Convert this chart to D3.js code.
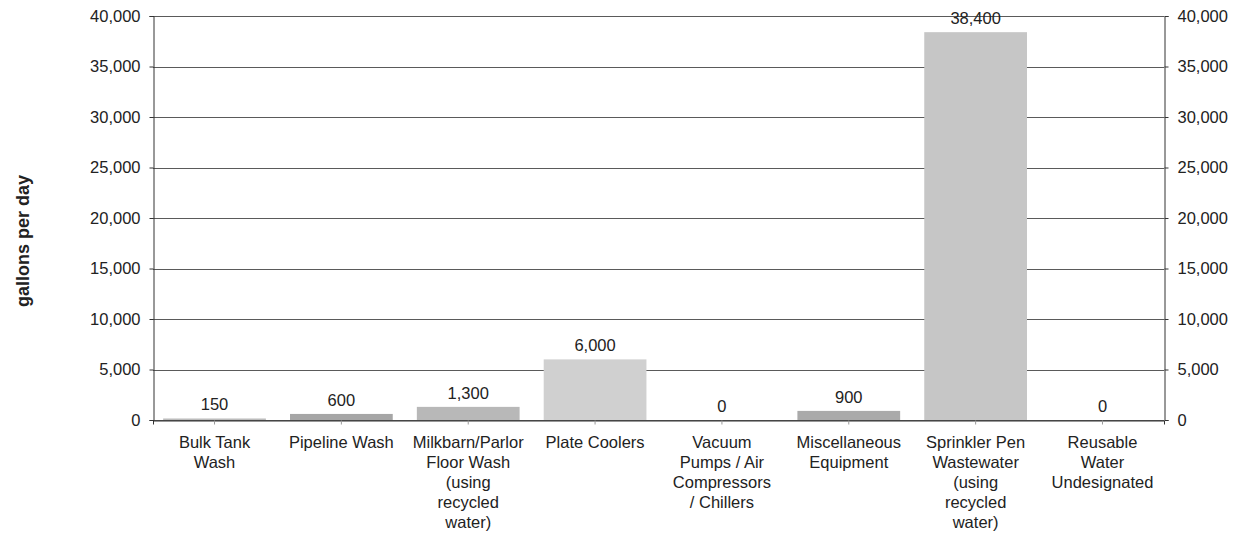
<!DOCTYPE html>
<html>
<head>
<meta charset="utf-8">
<script src="https://cdn.jsdelivr.net/npm/d3@7"></script>
<style>
  html, body { margin: 0; padding: 0; background: #fff; }
  svg { display: block; font-family: "Liberation Sans", Arial, sans-serif; }
</style>
</head>
<body>
<svg id="chart" width="1240" height="536"></svg>
<script>
// Daily water use by activity (gallons per day)
const categories = [
  ["Bulk Tank", "Wash"],
  ["Pipeline Wash"],
  ["Milkbarn/Parlor", "Floor Wash", "(using", "recycled", "water)"],
  ["Plate Coolers"],
  ["Vacuum", "Pumps / Air", "Compressors", "/ Chillers"],
  ["Miscellaneous", "Equipment"],
  ["Sprinkler Pen", "Wastewater", "(using", "recycled", "water)"],
  ["Reusable", "Water", "Undesignated"]
];
const values = [150, 600, 1300, 6000, 0, 900, 38400, 0];
const barColors = ["#bcbcbc", "#a6a6a6", "#b8b8b8", "#d0d0d0", "#c0c0c0", "#aaaaaa", "#c6c6c6", "#c0c0c0"];
const yTicks = [0, 5000, 10000, 15000, 20000, 25000, 30000, 35000, 40000];
const yTitle = "gallons per day";

const FONT = 16.5;
const svg = d3.select("#chart");
const plotL = 153, plotR = 1164, plotT = 16, plotB = 420;

const x = d3.scaleBand()
  .domain(d3.range(categories.length))
  .range([plotL, plotR])
  .paddingInner(0.19)
  .paddingOuter(0.08);

const y = d3.scaleLinear().domain([0, 40000]).range([plotB, plotT]);
const fmt = d3.format(",");

// horizontal gridlines
svg.append("g")
  .selectAll("line")
  .data(yTicks)
  .join("line")
  .attr("x1", plotL).attr("x2", plotR)
  .attr("y1", d => Math.round(y(d)) + 0.5).attr("y2", d => Math.round(y(d)) + 0.5)
  .attr("stroke", "#5a5a5a").attr("stroke-width", 1);

// bars
svg.append("g")
  .selectAll("rect")
  .data(values)
  .join("rect")
  .attr("x", (d, i) => x(i))
  .attr("width", x.bandwidth())
  .attr("y", d => y(d))
  .attr("height", d => y(0) - y(d))
  .attr("fill", (d, i) => barColors[i]);

// value labels
svg.append("g")
  .selectAll("text")
  .data(values)
  .join("text")
  .attr("x", (d, i) => x(i) + x.bandwidth() / 2)
  .attr("y", d => y(d) - 8)
  .attr("text-anchor", "middle")
  .attr("font-size", FONT)
  .attr("fill", "#222")
  .text(d => fmt(d));

// left axis
const yAxisL = d3.axisLeft(y).tickValues(yTicks).tickFormat(fmt).tickSize(4).tickPadding(9);
const gL = svg.append("g").attr("transform", `translate(${plotL + 0.5},0)`).call(yAxisL);
gL.select(".domain").attr("stroke", "#333");
gL.selectAll(".tick line").attr("stroke", "#333");
gL.selectAll("text").attr("font-size", FONT).attr("fill", "#222").attr("font-family", "Liberation Sans, Arial, sans-serif");

// right axis
const yAxisR = d3.axisRight(y).tickValues(yTicks).tickFormat(fmt).tickSize(4).tickPadding(9);
const gR = svg.append("g").attr("transform", `translate(${plotR + 0.5},0)`).call(yAxisR);
gR.select(".domain").attr("stroke", "#333");
gR.selectAll(".tick line").attr("stroke", "#333");
gR.selectAll("text").attr("font-size", FONT).attr("fill", "#222").attr("font-family", "Liberation Sans, Arial, sans-serif");

// bottom axis with wrapped category labels
const xAxis = d3.axisBottom(x).tickSize(4).tickFormat("");
const gB = svg.append("g").attr("transform", `translate(0,${plotB + 0.5})`).call(xAxis);
gB.select(".domain").attr("stroke", "#333");
gB.selectAll(".tick line").attr("stroke", "#999");

const labels = svg.append("g")
  .selectAll("text")
  .data(categories)
  .join("text")
  .attr("x", (d, i) => x(i) + x.bandwidth() / 2)
  .attr("y", 448)
  .attr("text-anchor", "middle")
  .attr("font-size", FONT)
  .attr("fill", "#222");
labels.selectAll("tspan")
  .data(d => d)
  .join("tspan")
  .attr("x", function () { return this.parentNode.getAttribute("x"); })
  .attr("dy", (d, i) => i === 0 ? 0 : 20)
  .text(d => d);

// y-axis title
svg.append("text")
  .attr("transform", `translate(29,241) rotate(-90)`)
  .attr("text-anchor", "middle")
  .attr("font-size", 18)
  .attr("font-weight", "bold")
  .attr("fill", "#222")
  .text(yTitle);
</script>
</body>
</html>
